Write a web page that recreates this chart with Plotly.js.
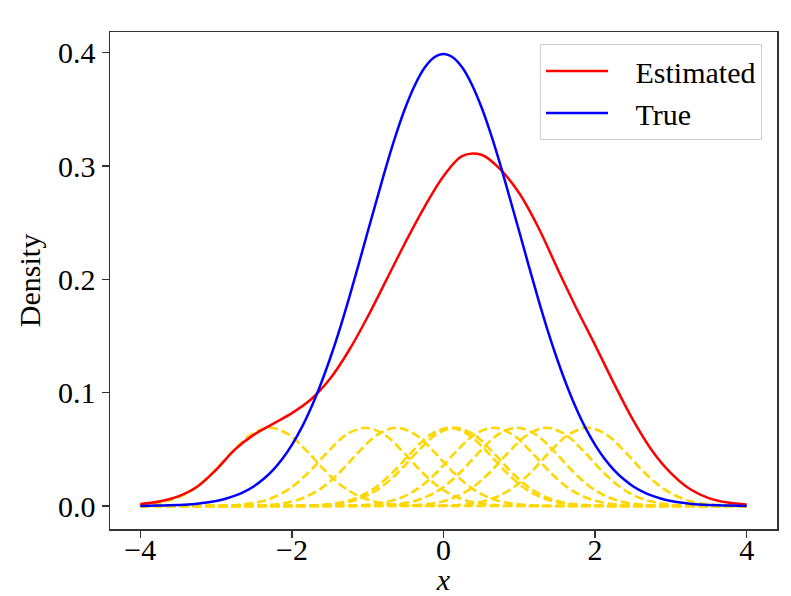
<!DOCTYPE html>
<html>
<head>
<meta charset="utf-8">
<script src="https://cdn.plot.ly/plotly-3.0.1.min.js"></script>
<style>html,body{margin:0;padding:0;background:#fff;}#chart{width:791px;height:596px;}</style>
</head>
<body>
<div id="chart"></div>
<script>
// x grid where the estimated curve was read
const xGrid = [-4.00,-3.75,-3.50,-3.25,-3.00,-2.75,-2.50,-2.25,-2.00,-1.75,-1.50,-1.25,-1.00,-0.75,-0.50,-0.25,
                0.00, 0.25, 0.50, 0.75, 1.00, 1.25, 1.50, 1.75, 2.00, 2.25, 2.50, 2.75, 3.00, 3.25, 3.50, 3.75, 4.00];
// Estimated density (red)
const estimated = [0.0018,0.004,0.0085,0.017,0.032,0.050,0.063,0.0725,0.082,0.094,0.112,0.137,0.167,0.200,0.233,0.264,
                   0.291,0.309,0.310,0.297,0.276,0.246,0.210,0.175,0.142,0.108,0.076,0.049,0.029,0.015,0.007,0.003,0.0013];
// x grid where the true curve was read
const xTrue = [-4.000,-3.875,-3.750,-3.625,-3.500,-3.375,-3.250,-3.125,-3.000,-2.875,-2.750,-2.625,-2.500,-2.375,-2.250,-2.125,
               -2.000,-1.875,-1.750,-1.625,-1.500,-1.375,-1.250,-1.125,-1.000,-0.875,-0.750,-0.625,-0.500,-0.375,-0.250,-0.125,
                0.000, 0.125, 0.250, 0.375, 0.500, 0.625, 0.750, 0.875, 1.000, 1.125, 1.250, 1.375, 1.500, 1.625, 1.750, 1.875,
                2.000, 2.125, 2.250, 2.375, 2.500, 2.625, 2.750, 2.875, 3.000, 3.125, 3.250, 3.375, 3.500, 3.625, 3.750, 3.875, 4.000];
// True density (blue)
const trueDensity = [0.0001,0.0002,0.0004,0.0006,0.0009,0.0013,0.0020,0.0030,0.0044,0.0064,0.0091,0.0127,0.0175,0.0238,0.0317,0.0417,
                     0.0540,0.0687,0.0863,0.1066,0.1295,0.1548,0.1826,0.2119,0.2420,0.2717,0.3011,0.3282,0.3521,0.3718,0.3867,0.3958,
                     0.3989,0.3958,0.3867,0.3718,0.3521,0.3282,0.3011,0.2717,0.2420,0.2119,0.1826,0.1548,0.1295,0.1066,0.0863,0.0687,
                     0.0540,0.0417,0.0317,0.0238,0.0175,0.0127,0.0091,0.0064,0.0044,0.0030,0.0020,0.0013,0.0009,0.0006,0.0004,0.0002,0.0001];
// Kernel centres (sample points) and the shape of one scaled kernel, read as offsets from its centre
const kernelCenters = [-2.29,-1.03,-0.62,0.08,0.15,0.66,0.97,1.36,1.90];
const kernelOffsets = [-6.5,-2.5,-2.25,-2.0,-1.75,-1.5,-1.25,-1.0,-0.75,-0.5,-0.25,0,0.25,0.5,0.75,1.0,1.25,1.5,1.75,2.0,2.25,2.5,6.5];
const kernelShape   = [0,0,0.0001,0.0002,0.0007,0.0023,0.0066,0.0153,0.0296,0.0475,0.0630,0.0690,0.0630,0.0475,0.0296,0.0153,0.0066,0.0023,0.0007,0.0002,0.0001,0,0];
const xMin = -4, xMax = 4;
const seriesNames = ['Estimated', 'True'];

const FONT = '"Liberation Serif", "Times New Roman", serif';
const FS = 30;
const gap = '\u00a0'.repeat(3);
const traces = [];
kernelCenters.forEach(c => {
  traces.push({
    x: kernelOffsets.map(o => Math.min(xMax, Math.max(xMin, c + o))),
    y: kernelShape,
    mode: 'lines', type: 'scatter', showlegend: false, hoverinfo: 'skip',
    line: {color: '#ffd700', width: 2.6, dash: '9px,4px', shape: 'spline', smoothing: 1}
  });
});
traces.push({x: xGrid, y: estimated, mode: 'lines', type: 'scatter', name: gap + seriesNames[0],
  line: {color: '#ff0000', width: 2.5, shape: 'spline', smoothing: 1}});
traces.push({x: xTrue, y: trueDensity, mode: 'lines', type: 'scatter', name: gap + seriesNames[1],
  line: {color: '#0000ff', width: 2.5, shape: 'spline', smoothing: 1}});

const axisCommon = {
  showgrid: false, zeroline: false, showline: true, mirror: true,
  linecolor: '#333', linewidth: 1.5, ticks: 'outside', ticklen: 7, tickwidth: 1.5, tickcolor: '#333',
  tickfont: {family: FONT, size: FS, color: '#000'}, automargin: false
};
const layout = {
  width: 791, height: 596,
  margin: {l: 110, r: 14, t: 32, b: 67},
  paper_bgcolor: '#fff', plot_bgcolor: '#fff',
  font: {family: FONT, size: FS, color: '#000'},
  xaxis: Object.assign({}, axisCommon, {range: [-4.4, 4.4], dtick: 2, tick0: 0, ticklabelstandoff: -14,
    title: {text: '<i>x</i>', font: {family: FONT, size: FS}, standoff: 22}}),
  yaxis: Object.assign({}, axisCommon, {range: [-0.0203, 0.4183], dtick: 0.1, tick0: 0, tickformat: '.1f',
    title: {text: 'Density', font: {family: FONT, size: FS}, standoff: 8}}),
  legend: {x: 0.9775, y: 0.976, xanchor: 'right', yanchor: 'top', itemwidth: 62,
    bgcolor: 'rgba(255,255,255,0.8)', bordercolor: '#d0d0d0', borderwidth: 1,
    font: {family: FONT, size: FS}, tracegroupgap: 0}
};
Plotly.newPlot('chart', traces, layout, {displayModeBar: false, staticPlot: true});
</script>
</body>
</html>
